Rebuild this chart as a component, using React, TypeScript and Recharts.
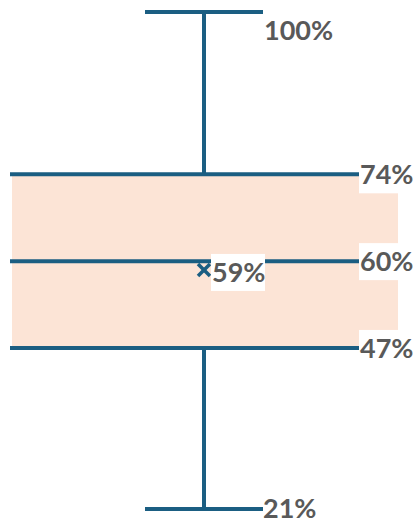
import React from 'react'
import { ComposedChart, Bar, Scatter, XAxis, YAxis } from 'recharts'

const categories = ['Score']
const minValues = [0.21]
const q1Values = [0.466]
const medianValues = [0.604]
const q3Values = [0.742]
const maxValues = [1.0]
const meanValues = [0.59]

const LINE = '#1B5E82'
const BOX_FILL = '#FCE4D6'
const TEXT = '#595959'
const FONT = 'Lato, "Open Sans", sans-serif'
const FONT_SIZE = 27

const pct = (v: number) => `${Math.round(v * 100)}%`

const data = categories.map((name, i) => ({
  name,
  whisker: [minValues[i], maxValues[i]],
  box: [q1Values[i], q3Values[i]],
  median: medianValues[i],
  mean: meanValues[i],
  min: minValues[i],
  max: maxValues[i],
  q1: q1Values[i],
  q3: q3Values[i],
}))

const Label = ({ x, y, text, bg }: { x: number; y: number; text: string; bg?: number }) => (
  <g>
    {bg ? <rect x={x - 1} y={y - 18} width={bg} height={37} fill="#fff" /> : null}
    <text
      x={x}
      y={y + 10}
      fill={TEXT}
      fontFamily={FONT}
      fontWeight={700}
      fontSize={FONT_SIZE}
      textAnchor="start"
    >
      {text}
    </text>
  </g>
)

// vertical whisker with caps at min and max
const WhiskerShape = (props: any) => {
  const { x, y, width, height, payload } = props
  const cx = x + width / 2
  const half = 59
  const top = y
  const bottom = y + height
  return (
    <g>
      <line x1={cx} x2={cx} y1={top} y2={bottom} stroke={LINE} strokeWidth={4} />
      <line x1={cx - half} x2={cx + half} y1={top} y2={top} stroke={LINE} strokeWidth={4} />
      <line x1={cx - half} x2={cx + half} y1={bottom} y2={bottom} stroke={LINE} strokeWidth={4} />
      <Label x={cx + half + 1} y={top + 18} text={pct(payload.max)} />
      <Label x={cx + half} y={bottom - 1} text={pct(payload.min)} />
    </g>
  )
}

// the box from q1 to q3 with the median line and edge labels
const BoxShape = (props: any) => {
  const { x, y, width, height, payload } = props
  const perUnit = height / (payload.q3 - payload.q1)
  const medianY = y + (payload.q3 - payload.median) * perUnit
  const top = y
  const bottom = y + height
  const labelX = x + width - 38
  return (
    <g>
      <rect x={x + 2} y={top} width={width - 2} height={height} fill={BOX_FILL} />
      <line x1={x} x2={x + width} y1={top} y2={top} stroke={LINE} strokeWidth={4} />
      <line x1={x} x2={x + width} y1={medianY} y2={medianY} stroke={LINE} strokeWidth={4} />
      <line x1={x} x2={x + width} y1={bottom} y2={bottom} stroke={LINE} strokeWidth={4} />
      <Label x={labelX} y={top} text={pct(payload.q3)} bg={80} />
      <Label x={labelX} y={medianY} text={pct(payload.median)} bg={80} />
      <Label x={labelX} y={bottom} text={pct(payload.q1)} bg={80} />
    </g>
  )
}

const MeanShape = (props: any) => {
  const { cx, cy, payload } = props
  const r = 6
  return (
    <g>
      <line x1={cx - r} x2={cx + r} y1={cy - r} y2={cy + r} stroke={LINE} strokeWidth={3.5} />
      <line x1={cx - r} x2={cx + r} y1={cy + r} y2={cy - r} stroke={LINE} strokeWidth={3.5} />
      <Label x={cx + 8} y={cy + 2} text={pct(payload.mean)} bg={54} />
    </g>
  )
}

export default function App() {
  return (
    <div style={{ position: 'absolute', left: 0, top: 0, width: 414, height: 522, background: '#fff' }}>
      <ComposedChart
        width={414}
        height={522}
        data={data}
        margin={{ top: 12, right: 16, bottom: 13, left: 10 }}
        barCategoryGap={0}
        barGap={0}
      >
        <XAxis xAxisId="whisker" dataKey="name" hide />
        <XAxis xAxisId="box" dataKey="name" hide />
        <YAxis type="number" domain={[0.21, 1]} hide />
        <Bar xAxisId="whisker" dataKey="whisker" shape={WhiskerShape} isAnimationActive={false} />
        <Bar xAxisId="box" dataKey="box" shape={BoxShape} isAnimationActive={false} />
        <Scatter xAxisId="box" dataKey="mean" shape={MeanShape} isAnimationActive={false} />
      </ComposedChart>
    </div>
  )
}
